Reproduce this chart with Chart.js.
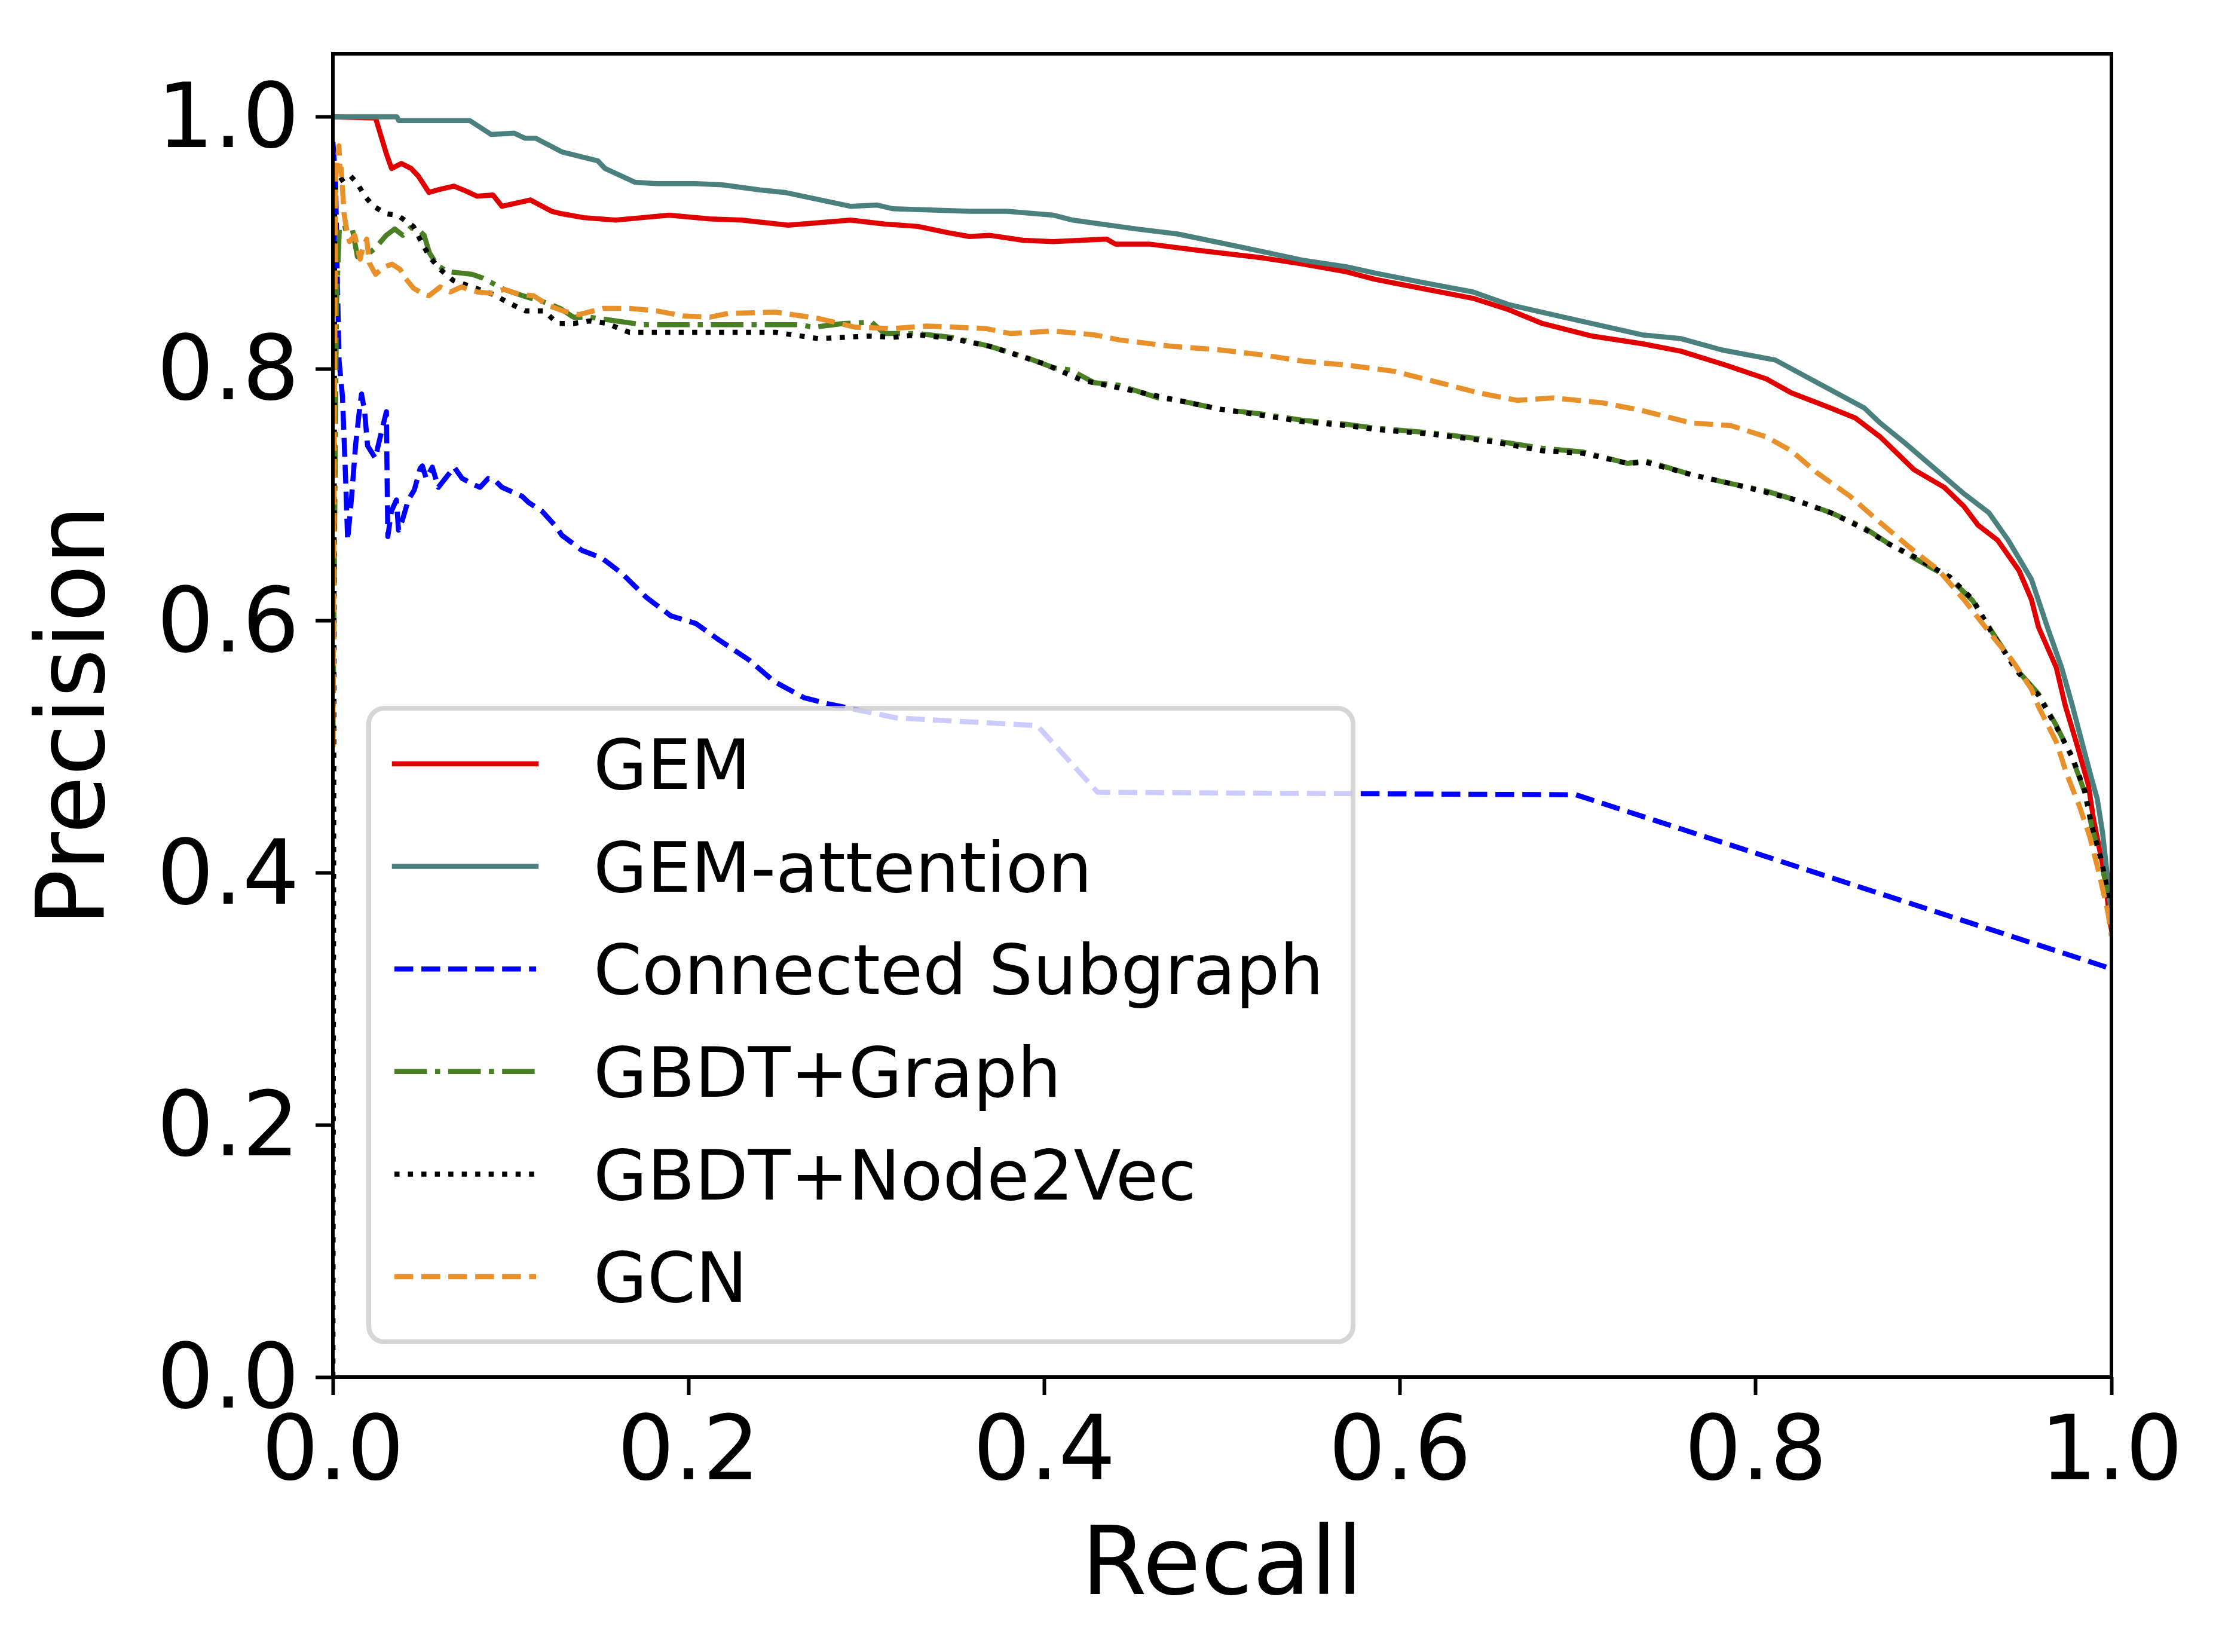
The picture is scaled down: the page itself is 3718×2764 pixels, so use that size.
<!DOCTYPE html>
<html>
<head>
<meta charset="utf-8">
<script src="https://cdn.jsdelivr.net/npm/chart.js@4.4.1/dist/chart.umd.min.js"></script>
<style>
html,body{margin:0;padding:0;background:#ffffff;}
canvas{display:block;}
</style>
</head>
<body>
<canvas id="c" width="3718" height="2764" style="width:3718px;height:2764px"></canvas>
<script>
// ---------------- DATA ----------------
const seriesNames = ['GEM', 'GEM-attention', 'Connected Subgraph', 'GBDT+Graph', 'GBDT+Node2Vec', 'GCN'];

const gemRecall = [0.000,0.024,0.027,0.030,0.033,0.0385,0.044,0.048,0.054,0.059,0.068,0.075,0.081,0.090,0.095,0.111,0.123,0.129,0.141,0.159,0.174,0.189,0.212,0.230,0.256,0.291,0.310,0.329,0.346,0.358,0.369,0.388,0.405,0.435,0.440,0.459,0.487,0.523,0.546,0.570,0.586,0.597,0.641,0.661,0.680,0.708,0.736,0.758,0.783,0.806,0.820,0.842,0.856,0.870,0.889,0.906,0.917,0.925,0.936,0.948,0.955,0.959,0.969,0.974,0.981,0.987,0.990,0.996,0.999,1.000];
const gemPrecision = [1.000,0.999,0.985,0.971,0.959,0.963,0.959,0.953,0.940,0.942,0.945,0.941,0.937,0.938,0.929,0.934,0.925,0.923,0.920,0.918,0.920,0.922,0.919,0.918,0.914,0.918,0.915,0.913,0.908,0.905,0.906,0.902,0.901,0.903,0.899,0.899,0.894,0.888,0.883,0.877,0.871,0.868,0.856,0.847,0.836,0.826,0.820,0.814,0.803,0.792,0.781,0.769,0.761,0.746,0.720,0.706,0.691,0.676,0.664,0.640,0.617,0.595,0.563,0.533,0.500,0.470,0.442,0.400,0.364,0.355];

const attRecall = [0.000,0.036,0.037,0.077,0.089,0.102,0.108,0.114,0.129,0.149,0.153,0.170,0.182,0.204,0.219,0.240,0.254,0.291,0.306,0.315,0.358,0.379,0.405,0.416,0.452,0.475,0.499,0.523,0.546,0.570,0.586,0.611,0.641,0.661,0.689,0.714,0.736,0.758,0.781,0.811,0.836,0.861,0.870,0.884,0.903,0.917,0.931,0.942,0.955,0.964,0.972,0.978,0.983,0.989,0.992,0.995,0.998,1.000];
const attPrecision = [1.000,1.000,0.997,0.997,0.986,0.987,0.983,0.983,0.972,0.965,0.959,0.948,0.947,0.947,0.946,0.942,0.940,0.929,0.930,0.927,0.925,0.925,0.922,0.918,0.911,0.907,0.900,0.893,0.886,0.881,0.876,0.869,0.861,0.851,0.842,0.834,0.827,0.824,0.815,0.807,0.788,0.769,0.757,0.741,0.718,0.701,0.686,0.664,0.633,0.595,0.563,0.533,0.506,0.474,0.459,0.432,0.394,0.365];

const csRecall = [0.000,0.0015,0.0025,0.0035,0.0054,0.0071,0.0083,0.0105,0.0128,0.0150,0.0161,0.0178,0.0195,0.0239,0.0256,0.0301,0.0305,0.0309,0.0329,0.0357,0.0369,0.0391,0.0424,0.0458,0.0491,0.0503,0.0525,0.0559,0.0593,0.0643,0.0682,0.0727,0.0794,0.0827,0.0873,0.0907,0.0951,0.1063,0.110,0.1176,0.1254,0.1287,0.1354,0.1399,0.1511,0.1623,0.176,0.190,0.204,0.217,0.234,0.248,0.265,0.279,0.317,0.396,0.430,0.699,1.000];
const csPrecision = [0.980,0.950,0.870,0.806,0.778,0.715,0.664,0.698,0.740,0.768,0.780,0.767,0.739,0.729,0.740,0.766,0.712,0.667,0.687,0.696,0.672,0.680,0.696,0.704,0.721,0.723,0.713,0.722,0.706,0.715,0.722,0.713,0.708,0.706,0.713,0.712,0.706,0.699,0.694,0.687,0.675,0.668,0.661,0.656,0.650,0.638,0.619,0.604,0.598,0.585,0.569,0.552,0.539,0.534,0.523,0.517,0.464,0.462,0.324];

const graphRecall = [0.000,0.002,0.0033,0.0037,0.0046,0.0107,0.0138,0.018,0.024,0.030,0.0348,0.0393,0.0437,0.0483,0.0513,0.0543,0.0588,0.0648,0.0723,0.0783,0.0843,0.0963,0.1068,0.1188,0.1277,0.1353,0.1443,0.1593,0.1743,0.263,0.270,0.287,0.303,0.310,0.329,0.348,0.369,0.390,0.405,0.415,0.428,0.442,0.464,0.475,0.499,0.523,0.546,0.570,0.586,0.619,0.653,0.680,0.703,0.728,0.738,0.764,0.786,0.806,0.820,0.842,0.861,0.875,0.889,0.909,0.922,0.933,0.947,0.959,0.969,0.978,0.985,0.989,0.994,0.998,1.000];
const graphPrecision = [0.500,0.850,0.899,0.913,0.911,0.913,0.889,0.889,0.896,0.906,0.911,0.906,0.912,0.910,0.906,0.892,0.882,0.877,0.876,0.875,0.872,0.863,0.858,0.853,0.848,0.841,0.841,0.838,0.835,0.835,0.833,0.836,0.837,0.828,0.828,0.825,0.818,0.809,0.801,0.799,0.789,0.787,0.777,0.775,0.768,0.764,0.759,0.756,0.753,0.749,0.743,0.737,0.734,0.725,0.727,0.716,0.709,0.703,0.697,0.686,0.674,0.661,0.650,0.634,0.616,0.591,0.561,0.542,0.517,0.491,0.464,0.436,0.411,0.383,0.360];

const n2vRecall = [0.000,0.001,0.0017,0.0093,0.0138,0.018,0.0228,0.0303,0.0363,0.0453,0.0497,0.0543,0.0603,0.0678,0.0783,0.0903,0.0993,0.1083,0.1188,0.1263,0.1353,0.1443,0.1548,0.1608,0.1668,0.249,0.273,0.301,0.315,0.329,0.348,0.369,0.400,0.421,0.452,0.475,0.499,0.523,0.546,0.570,0.586,0.619,0.653,0.680,0.703,0.728,0.738,0.764,0.786,0.806,0.820,0.842,0.861,0.875,0.889,0.909,0.922,0.933,0.947,0.959,0.969,0.978,0.985,0.989,0.994,0.998,1.000];
const n2vPrecision = [0.000,0.930,0.947,0.954,0.947,0.937,0.929,0.923,0.922,0.913,0.901,0.889,0.879,0.870,0.865,0.859,0.852,0.846,0.846,0.836,0.836,0.838,0.836,0.832,0.829,0.829,0.824,0.826,0.825,0.827,0.824,0.818,0.804,0.791,0.782,0.775,0.768,0.763,0.758,0.755,0.752,0.748,0.742,0.735,0.733,0.725,0.726,0.716,0.709,0.702,0.697,0.686,0.673,0.661,0.651,0.635,0.617,0.590,0.560,0.541,0.516,0.492,0.465,0.437,0.412,0.385,0.360];

const gcnRecall = [0.000,0.0015,0.0034,0.0040,0.0047,0.0063,0.0077,0.0093,0.0123,0.0153,0.0168,0.019,0.0205,0.024,0.0288,0.0333,0.0378,0.0407,0.0453,0.0513,0.054,0.0603,0.066,0.0723,0.0813,0.0888,0.0963,0.1052,0.1128,0.1218,0.1293,0.1383,0.1518,0.1667,0.182,0.1968,0.212,0.2223,0.249,0.273,0.294,0.315,0.334,0.367,0.381,0.405,0.428,0.442,0.471,0.499,0.523,0.546,0.570,0.597,0.625,0.644,0.666,0.686,0.714,0.736,0.764,0.786,0.806,0.820,0.834,0.853,0.870,0.886,0.903,0.917,0.933,0.944,0.955,0.959,0.969,0.975,0.982,0.988,0.993,0.998,1.000];
const gcnPrecision = [0.500,0.950,0.977,0.957,0.959,0.923,0.911,0.901,0.906,0.887,0.896,0.903,0.884,0.875,0.881,0.883,0.879,0.872,0.864,0.859,0.858,0.865,0.861,0.865,0.861,0.860,0.863,0.859,0.858,0.850,0.846,0.843,0.848,0.848,0.846,0.842,0.841,0.844,0.845,0.840,0.833,0.832,0.834,0.832,0.828,0.830,0.827,0.823,0.818,0.815,0.811,0.806,0.803,0.798,0.788,0.781,0.775,0.777,0.773,0.767,0.757,0.755,0.746,0.735,0.718,0.699,0.678,0.659,0.640,0.617,0.588,0.569,0.546,0.532,0.504,0.478,0.453,0.428,0.400,0.369,0.350];

const xTickValues = [0.0, 0.2, 0.4, 0.6, 0.8, 1.0];
const xTickLabels = ['0.0', '0.2', '0.4', '0.6', '0.8', '1.0'];
const yTickValues = [0.0, 0.2, 0.4, 0.6, 0.8, 1.0];
const yTickLabels = ['0.0', '0.2', '0.4', '0.6', '0.8', '1.0'];
const xAxisTitle = 'Recall';
const yAxisTitle = 'Precision';
const xRange = [0, 1.0];
const yRange = [0, 1.05];

// ---------------- STYLE ----------------
const FONT = "'DejaVu Sans', 'Liberation Sans', sans-serif";
const LW = 8.5;
const seriesColors = ['#e00000', '#4a807e', '#0000ff', '#4a7f24', '#000000', '#e8902a'];
const DASHED = [3.7 * LW, 1.6 * LW];
const DASHDOT = [6.4 * LW, 1.6 * LW, 1.0 * LW, 1.6 * LW];
const DOTTED = [1.0 * LW, 1.65 * LW];
const seriesDashes = [[], [], DASHED, DASHDOT, DOTTED, DASHED];

const recallSets = [gemRecall, attRecall, csRecall, graphRecall, n2vRecall, gcnRecall];
const precisionSets = [gemPrecision, attPrecision, csPrecision, graphPrecision, n2vPrecision, gcnPrecision];

function zip(xs, ys) {
  const n = Math.min(xs.length, ys.length);
  const out = [];
  for (let i = 0; i < n; i++) out.push({x: xs[i], y: ys[i]});
  return out;
}

const datasets = seriesNames.map((name, i) => ({
  label: name,
  data: zip(recallSets[i], precisionSets[i]),
  borderColor: seriesColors[i],
  backgroundColor: seriesColors[i],
  borderWidth: LW,
  borderDash: seriesDashes[i],
  borderCapStyle: seriesDashes[i].length ? 'butt' : 'square',
  borderJoinStyle: 'round',
  pointRadius: 0,
  pointHoverRadius: 0,
  tension: 0,
  fill: false,
  clip: 0,
  order: seriesNames.length - i
}));

// frame (four spines)
const framePlugin = {
  id: 'frame',
  afterDatasetsDraw(chart) {
    const {ctx, chartArea: a} = chart;
    ctx.save();
    ctx.strokeStyle = '#000000';
    ctx.lineWidth = 6;
    ctx.lineJoin = 'miter';
    ctx.strokeRect(a.left, a.top, a.right - a.left, a.bottom - a.top);
    ctx.restore();
  }
};

// legend drawn like matplotlib (semi-transparent box inside the axes)
const legendBox = {left: 617, top: 1185, right: 2264, bottom: 2245, radius: 26, border: 8};
const legendRows = {firstY: 1278, step: 171.6, lineX0: 660, lineX1: 897, textX: 993, fontSize: 116};

const legendPlugin = {
  id: 'mplLegend',
  afterDraw(chart) {
    const ctx = chart.ctx;
    const b = legendBox;
    ctx.save();
    ctx.beginPath();
    if (ctx.roundRect) {
      ctx.roundRect(b.left, b.top, b.right - b.left, b.bottom - b.top, b.radius);
    } else {
      ctx.rect(b.left, b.top, b.right - b.left, b.bottom - b.top);
    }
    ctx.fillStyle = 'rgba(255,255,255,0.8)';
    ctx.fill();
    ctx.lineWidth = b.border;
    ctx.strokeStyle = 'rgba(204,204,204,0.8)';
    ctx.stroke();

    chart.data.datasets.forEach((ds, i) => {
      const y = legendRows.firstY + i * legendRows.step;
      ctx.beginPath();
      ctx.setLineDash(ds.borderDash || []);
      ctx.lineDashOffset = 0;
      ctx.lineCap = (ds.borderDash && ds.borderDash.length) ? 'butt' : 'square';
      ctx.strokeStyle = ds.borderColor;
      ctx.lineWidth = ds.borderWidth;
      ctx.moveTo(legendRows.lineX0, y);
      ctx.lineTo(legendRows.lineX1, y);
      ctx.stroke();
      ctx.setLineDash([]);
      ctx.fillStyle = '#000000';
      ctx.font = legendRows.fontSize + 'px ' + FONT;
      ctx.textAlign = 'left';
      ctx.textBaseline = 'alphabetic';
      ctx.fillText(ds.label, legendRows.textX, y + 0.3645 * legendRows.fontSize);
    });
    ctx.restore();
  }
};

const ctx = document.getElementById('c').getContext('2d');
new Chart(ctx, {
  type: 'line',
  data: {datasets},
  plugins: [framePlugin, legendPlugin],
  options: {
    responsive: false,
    maintainAspectRatio: false,
    animation: false,
    devicePixelRatio: 1,
    parsing: true,
    layout: {padding: {left: 0, top: 90, right: 185, bottom: 0}},
    plugins: {
      legend: {display: false},
      tooltip: {enabled: false},
      title: {display: false}
    },
    scales: {
      x: {
        type: 'linear',
        min: xRange[0],
        max: xRange[1],
        afterBuildTicks: (axis) => { axis.ticks = xTickValues.map(v => ({value: v})); },
        afterFit: (scale) => {
          scale.height = 460;
          scale.paddingLeft = 0; scale.paddingRight = 0;
          scale.paddingTop = 0; scale.paddingBottom = 0;
        },
        ticks: {
          autoSkip: false,
          maxRotation: 0,
          minRotation: 0,
          padding: 12,
          color: '#000000',
          font: {family: FONT, size: 150},
          callback: (v) => {
            const k = xTickValues.findIndex(t => Math.abs(t - v) < 1e-9);
            return k >= 0 ? xTickLabels[k] : '';
          }
        },
        grid: {display: true, drawOnChartArea: false, drawTicks: true, tickLength: 30, tickWidth: 6, tickColor: '#000000'},
        border: {display: false},
        title: {display: true, text: xAxisTitle, color: '#000000', font: {family: FONT, size: 158}, padding: {top: 0, bottom: 43}}
      },
      y: {
        type: 'linear',
        min: yRange[0],
        max: yRange[1],
        afterBuildTicks: (axis) => { axis.ticks = yTickValues.map(v => ({value: v})); },
        afterFit: (scale) => {
          scale.width = 557;
          scale.paddingLeft = 0; scale.paddingRight = 0;
          scale.paddingTop = 0; scale.paddingBottom = 0;
        },
        ticks: {
          autoSkip: false,
          padding: 27,
          labelOffset: 12,
          color: '#000000',
          font: {family: FONT, size: 150},
          callback: (v) => {
            const k = yTickValues.findIndex(t => Math.abs(t - v) < 1e-9);
            return k >= 0 ? yTickLabels[k] : '';
          }
        },
        grid: {display: true, drawOnChartArea: false, drawTicks: true, tickLength: 29, tickWidth: 6, tickColor: '#000000'},
        border: {display: false},
        title: {display: true, text: yAxisTitle, color: '#000000', font: {family: FONT, size: 158}, padding: {top: 38, bottom: 0}}
      }
    }
  }
});
</script>
</body>
</html>
